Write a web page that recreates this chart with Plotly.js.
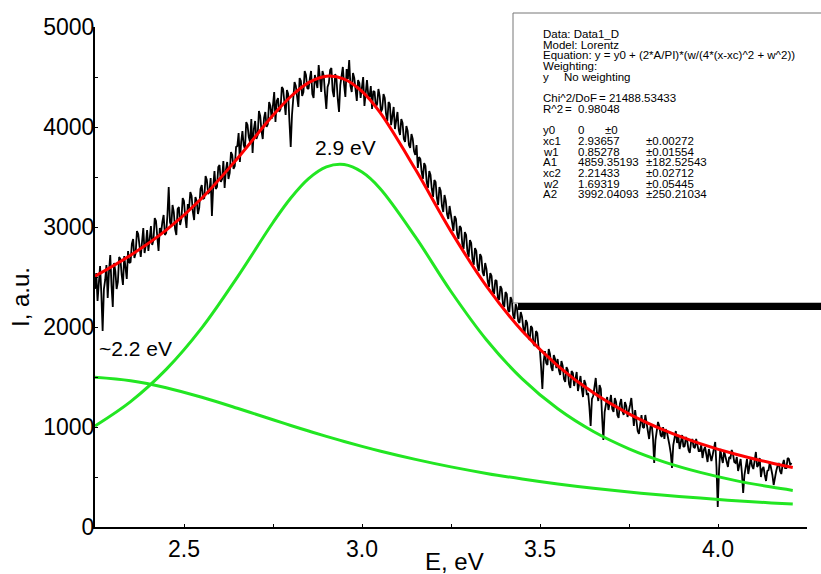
<!DOCTYPE html>
<html>
<head>
<meta charset="utf-8">
<script src="https://cdn.plot.ly/plotly-3.0.1.min.js"></script>
<style>html,body{margin:0;padding:0;background:#fff}#chart{width:821px;height:574px}</style>
</head>
<body>
<div id="chart"></div>
<script>
// Measured spectrum (uniform energy grid)
const E_START = 2.25;
const E_STEP = 0.00357;
const intensity = [
2380,2540,2260,2450,2610,2330,1960,2380,2470,2620,2290,2550,2720,2410,2200,2640,2560,2380,2450,2700,2680,2520,2420,2710,2600,2480,2760,2640,
2650,2830,2880,2690,2740,2960,2930,2780,2700,2850,2990,2740,2820,2970,2760,2880,3010,2820,2870,3090,3060,2900,2760,2990,2940,3050,3120,2920,
2940,3120,3400,3050,3010,3220,3150,2980,2920,3180,3200,3020,3080,3290,3260,3100,2990,3230,3180,3350,3310,3150,3070,3300,3260,3130,3190,3380,
3420,3280,3290,3510,3470,3330,3350,3490,3110,3400,3560,3380,3400,3600,3620,3450,3480,3660,3390,3570,3650,3480,3540,3750,3720,3580,3610,3800,
3810,3940,3650,3850,3960,3820,3780,4050,4020,3900,3850,4080,3740,3980,4060,3880,3920,4160,4110,3960,3880,4090,4150,4000,4030,4250,4210,4080,
4230,4350,4050,4260,4290,4150,4180,4400,4380,4240,4120,4370,4330,4050,3800,4120,4260,4450,4410,4280,4200,4490,4460,4310,4350,4560,4520,4390,
4380,4480,4560,4330,4290,4520,4470,4390,4620,4450,4350,4560,4510,4330,4180,4400,4440,4570,4590,4360,4300,4530,4480,4280,4150,4420,4530,4600,
4420,4300,4580,4480,4670,4410,4350,4540,4490,4330,4260,4470,4440,4290,4380,4500,4210,4380,4470,4320,4300,4410,4180,4360,4350,4200,4230,4380,
4310,4150,4180,4330,4290,4130,4060,4250,4230,4020,4120,4200,3980,4090,4150,3970,3920,4080,4040,3880,3850,4010,3960,3820,3790,3930,3880,3760,
3720,3820,3590,3700,3680,3550,3480,3640,3610,3450,3390,3560,3520,3380,3300,3470,3450,3290,3220,3400,3360,3210,3150,3320,3260,3130,3080,3210,
3130,3020,2960,3110,3080,2930,2880,3010,2990,2830,2780,2950,2920,2760,2700,2870,2840,2680,2620,2790,2760,2610,2560,2730,2700,2550,2510,2640,
2580,2460,2400,2540,2510,2360,2330,2470,2460,2290,2270,2410,2380,2230,2200,2350,2330,2170,2150,2300,2270,2120,2080,2230,2190,2060,2040,2150,
2100,1990,1930,2070,2040,1900,1870,2010,1990,1830,1810,1960,1940,1800,1780,1600,1380,1650,1760,1640,1620,1780,1730,1600,1560,1720,1680,1590,
1680,1570,1520,1660,1610,1480,1450,1600,1570,1430,1390,1560,1540,1410,1480,1550,1360,1450,1510,1380,1300,1470,1430,1320,1340,1200,1010,1280,
1310,1400,1490,1340,1260,1420,1380,1100,870,1150,1240,1300,1170,1260,1320,1180,1150,1290,1250,1120,1090,1230,1280,1160,1120,1250,1210,1100,
1150,1220,1290,1100,1010,1170,1080,960,930,1060,1120,1000,990,1120,1050,950,880,1000,1030,900,640,870,960,1050,1010,920,900,1000,
880,980,950,860,820,740,590,820,900,960,840,910,780,870,920,800,810,900,860,770,740,850,880,800,790,880,830,760,
760,820,690,770,800,700,650,780,730,660,720,800,850,600,200,560,780,700,640,760,710,640,600,700,690,770,730,650,
640,700,560,620,680,540,340,520,610,680,530,620,690,610,580,660,750,600,620,690,500,580,600,520,460,560,570,650,
590,520,420,500,560,610,640,560,530,620,670,590,590,690,680,620,640
];

// Fit curves
const fitE = [2.25,2.35,2.45,2.55,2.65,2.75,2.8,2.85,2.9,2.95,3.0,3.05,3.15,3.25,3.35,3.45,3.55,3.65,3.75,3.85,3.95,4.05,4.15,4.21];
const peak1 = [1010,1254,1576,1991,2499,3045,3290,3484,3601,3624,3549,3388,2901,2355,1870,1481,1182,955,782,649,546,464,399,366];
const peak2 = [1498,1463,1393,1297,1187,1072,1015,960,906,855,806,760,676,601,536,480,430,387,350,317,289,263,241,229];
const fitSum = [2508,2718,2969,3288,3686,4117,4305,4444,4508,4479,4356,4148,3577,2956,2406,1960,1612,1342,1132,966,834,727,640,595];

const xTickVals = [2.5, 3.0, 3.5, 4.0];
const xTickText = ['2.5', '3.0', '3.5', '4.0'];
const yTickVals = [0, 1000, 2000, 3000, 4000, 5000];

const infoLines = [
  ['Data: Data1_D'],
  ['Model: Lorentz'],
  ['Equation: y = y0 + (2*A/PI)*(w/(4*(x-xc)^2 + w^2))'],
  ['Weighting:'],
  ['y', 'No weighting'],
  null,
  ['Chi^2/DoF', '= 21488.53433'],
  ['R^2', '=  0.98048'],
  null,
  ['y0', '0', '±0'],
  ['xc1', '2.93657', '±0.00272'],
  ['w1', '0.85278', '±0.01554'],
  ['A1', '4859.35193', '±182.52543'],
  ['xc2', '2.21433', '±0.02712'],
  ['w2', '1.69319', '±0.05445'],
  ['A2', '3992.04093', '±250.21034']
];

const FONT = 'Arial, "Liberation Sans", sans-serif';
const L = 95, R = 807, T = 27, B = 527;
const px = v => (v - L) / (R - L);
const py = v => (B - v) / (B - T);

const traces = [
  {x0: E_START, dx: E_STEP, y: intensity, type: 'scatter', mode: 'lines',
   line: {color: '#000', width: 1.8}, hoverinfo: 'skip'},
  {x: fitE, y: peak1, type: 'scatter', mode: 'lines',
   line: {color: '#22e622', width: 3, shape: 'spline'}, hoverinfo: 'skip'},
  {x: fitE, y: peak2, type: 'scatter', mode: 'lines',
   line: {color: '#22e622', width: 3, shape: 'spline'}, hoverinfo: 'skip'},
  {x: fitE, y: fitSum, type: 'scatter', mode: 'lines',
   line: {color: '#ff0000', width: 3, shape: 'spline'}, hoverinfo: 'skip'}
];

const annotations = [];
const lineY0 = 34, lineDy = 10.7;
const colX = [542, 577, 645];
infoLines.forEach((ln, i) => {
  if (!ln) return;
  const y = lineY0 + i * lineDy;
  let xs;
  if (ln.length === 1) xs = [542];
  else if (ln[0] === 'y') xs = [542, 563];
  else if (ln[0] === 'Chi^2/DoF') xs = [542, 598];
  else if (ln[0] === 'R^2') xs = [542, 564];
  else if (ln[0] === 'y0') xs = [542, 577, 604];
  else xs = colX;
  ln.forEach((t, k) => {
    annotations.push({xref: 'paper', yref: 'paper', x: px(xs[k]), y: py(y),
      xanchor: 'left', yanchor: 'middle', text: t, showarrow: false, borderpad: 0,
      font: {family: FONT, size: 11.5, color: '#000'}});
  });
});
annotations.push({xref: 'x', yref: 'y', x: 2.955, y: 3800, text: '2.9 eV', showarrow: false,
  xanchor: 'center', yanchor: 'middle', font: {family: FONT, size: 21, color: '#000'}});
annotations.push({xref: 'x', yref: 'y', x: 2.255, y: 1790, text: '~2.2 eV', showarrow: false,
  xanchor: 'left', yanchor: 'middle', font: {family: FONT, size: 21, color: '#000'}});
annotations.push({xref: 'paper', yref: 'paper', x: px(454), y: py(561), text: 'E, eV', showarrow: false,
  xanchor: 'center', yanchor: 'middle', borderpad: 0, font: {family: FONT, size: 24, color: '#000'}});
annotations.push({xref: 'paper', yref: 'paper', x: px(20), y: py(297), text: 'I, a.u.', showarrow: false,
  textangle: -90, xanchor: 'center', yanchor: 'middle', font: {family: FONT, size: 24, color: '#000'}});

const shapes = [
  {type: 'rect', xref: 'paper', yref: 'paper', x0: px(513), x1: px(840), y0: py(303), y1: py(13),
   fillcolor: '#fff', line: {color: '#777', width: 1}, layer: 'above'},
  {type: 'rect', xref: 'paper', yref: 'paper', x0: px(518), x1: px(840), y0: py(310), y1: py(303),
   fillcolor: '#000', line: {width: 0}, layer: 'above'}
];

const layout = {
  width: 821, height: 574,
  margin: {l: L, r: 821 - R, t: T, b: 574 - B, pad: 0},
  paper_bgcolor: '#fff', plot_bgcolor: '#fff',
  showlegend: false,
  font: {family: FONT, color: '#000'},
  xaxis: {range: [2.25, 4.25], tickvals: xTickVals, ticktext: xTickText,
    showgrid: false, zeroline: false, showline: true, linecolor: '#000', linewidth: 2,
    ticks: 'inside', ticklen: 3, tickwidth: 1, tickcolor: '#000',
    tickfont: {family: FONT, size: 23, color: '#000'},
    minor: {tickvals: [2.75, 3.25, 3.75], ticks: 'inside', ticklen: 3, tickcolor: '#000'}},
  yaxis: {range: [0, 5000], tickvals: yTickVals,
    showgrid: false, zeroline: false, showline: true, linecolor: '#000', linewidth: 2,
    ticks: 'inside', ticklen: 3, tickwidth: 1, tickcolor: '#000', ticklabelstandoff: -6,
    tickfont: {family: FONT, size: 23, color: '#000'},
    minor: {dtick: 500, ticks: 'inside', ticklen: 3, tickcolor: '#000'}},
  annotations: annotations,
  shapes: shapes
};

Plotly.newPlot('chart', traces, layout, {displayModeBar: false, staticPlot: true});
</script>
</body>
</html>
